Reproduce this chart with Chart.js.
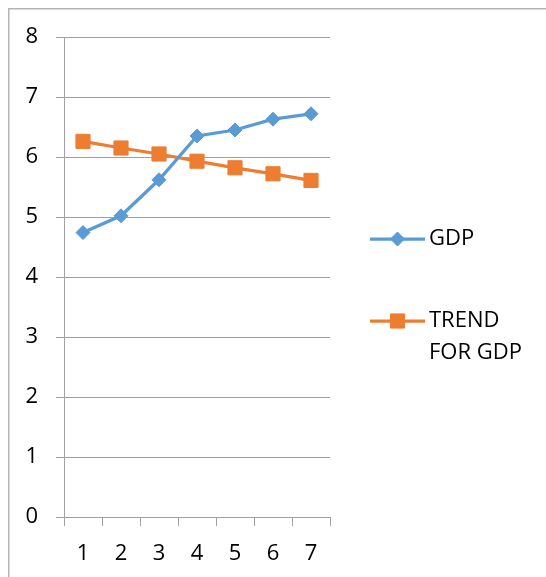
<!DOCTYPE html>
<html>
<head>
<meta charset="utf-8">
<script src="https://cdn.jsdelivr.net/npm/chart.js@4/dist/chart.umd.min.js"></script>
<style>
  html, body { margin: 0; padding: 0; background: #ffffff; }
  #c { display: block; }
</style>
</head>
<body>
<canvas id="c" width="546" height="577"></canvas>
<script>
// ---- data ----
const categories = ['1', '2', '3', '4', '5', '6', '7'];
const gdpValues = [4.74, 5.02, 5.62, 6.35, 6.45, 6.63, 6.72];
const trendValues = [6.26, 6.15, 6.05, 5.93, 5.82, 5.72, 5.61];
const seriesNames = ['GDP', ['TREND', 'FOR GDP']];
const yMin = 0, yMax = 8, yStep = 1;

const FONT = "'Open Sans', 'Liberation Sans', sans-serif";
const FONT_SIZE = 22;
const GRID = '#a0a0a0';
const BLUE = '#5b9bd5';
const ORANGE = '#ed7d31';

const framePlugin = {
  id: 'frame',
  beforeDraw(chart) {
    const ctx = chart.ctx;
    ctx.save();
    ctx.fillStyle = '#ffffff';
    ctx.fillRect(0, 0, chart.width, chart.height);
    ctx.strokeStyle = '#b4b4b4';
    ctx.lineWidth = 1.5;
    ctx.beginPath();
    ctx.moveTo(8.75, chart.height + 2);
    ctx.lineTo(8.75, 8.75);
    ctx.lineTo(chart.width + 2, 8.75);
    ctx.stroke();
    ctx.restore();
  }
};

const legendPlugin = {
  id: 'sideLegend',
  afterDraw(chart) {
    const ctx = chart.ctx;
    const rows = [239, 321];
    ctx.save();
    chart.data.datasets.forEach((ds, i) => {
      const y = rows[i];
      ctx.strokeStyle = ds.borderColor;
      ctx.lineWidth = ds.borderWidth;
      ctx.beginPath();
      ctx.moveTo(370, y);
      ctx.lineTo(425, y);
      ctx.stroke();
      ctx.fillStyle = ds.pointBackgroundColor;
      ctx.strokeStyle = ds.pointBorderColor;
      ctx.lineWidth = 1;
      Chart.helpers.drawPoint(ctx, {
        pointStyle: ds.pointStyle,
        radius: ds.pointRadius,
        rotation: 0,
        borderWidth: 1
      }, 397.5, y);
      const lines = Array.isArray(ds.label) ? ds.label : [ds.label];
      ctx.fillStyle = '#000000';
      ctx.font = FONT_SIZE + 'px ' + FONT;
      ctx.textAlign = 'left';
      ctx.textBaseline = 'middle';
      lines.forEach((t, k) => ctx.fillText(t, 429, y + k * 32));
    });
    ctx.restore();
  }
};

new Chart(document.getElementById('c'), {
  type: 'line',
  data: {
    labels: categories,
    datasets: [
      {
        label: seriesNames[0],
        data: gdpValues,
        borderColor: BLUE,
        backgroundColor: BLUE,
        pointBackgroundColor: BLUE,
        pointBorderColor: BLUE,
        borderWidth: 3.25,
        pointStyle: 'rectRot',
        pointRadius: 7,
        pointBorderWidth: 1,
        tension: 0,
        fill: false
      },
      {
        label: seriesNames[1],
        data: trendValues,
        borderColor: ORANGE,
        backgroundColor: ORANGE,
        pointBackgroundColor: ORANGE,
        pointBorderColor: ORANGE,
        borderWidth: 3.25,
        pointStyle: 'rect',
        pointRadius: 10,
        pointBorderWidth: 1,
        tension: 0,
        fill: false
      }
    ]
  },
  options: {
    responsive: false,
    animation: false,
    devicePixelRatio: 1,
    layout: { padding: { top: 37, right: 216, bottom: 0, left: 0 } },
    plugins: {
      legend: { display: false },
      tooltip: { enabled: false },
      title: { display: false }
    },
    scales: {
      x: {
        type: 'category',
        offset: true,
        grid: {
          offset: true,
          drawOnChartArea: false,
          drawTicks: true,
          tickLength: 9,
          color: GRID,
          lineWidth: 1
        },
        border: { display: true, color: GRID, width: 1 },
        ticks: {
          color: '#000000',
          font: { family: FONT, size: FONT_SIZE },
          padding: 15,
          maxRotation: 0,
          autoSkip: false
        },
        afterFit(scale) { scale.height = 60; }
      },
      y: {
        min: yMin,
        max: yMax,
        grid: {
          drawTicks: true,
          tickLength: 8,
          color: GRID,
          lineWidth: 1
        },
        border: { display: true, color: GRID, width: 1 },
        ticks: {
          stepSize: yStep,
          color: '#000000',
          font: { family: FONT, size: FONT_SIZE },
          padding: 18
        },
        afterFit(scale) { scale.width = 64; }
      }
    }
  },
  plugins: [framePlugin, legendPlugin]
});
</script>
</body>
</html>
